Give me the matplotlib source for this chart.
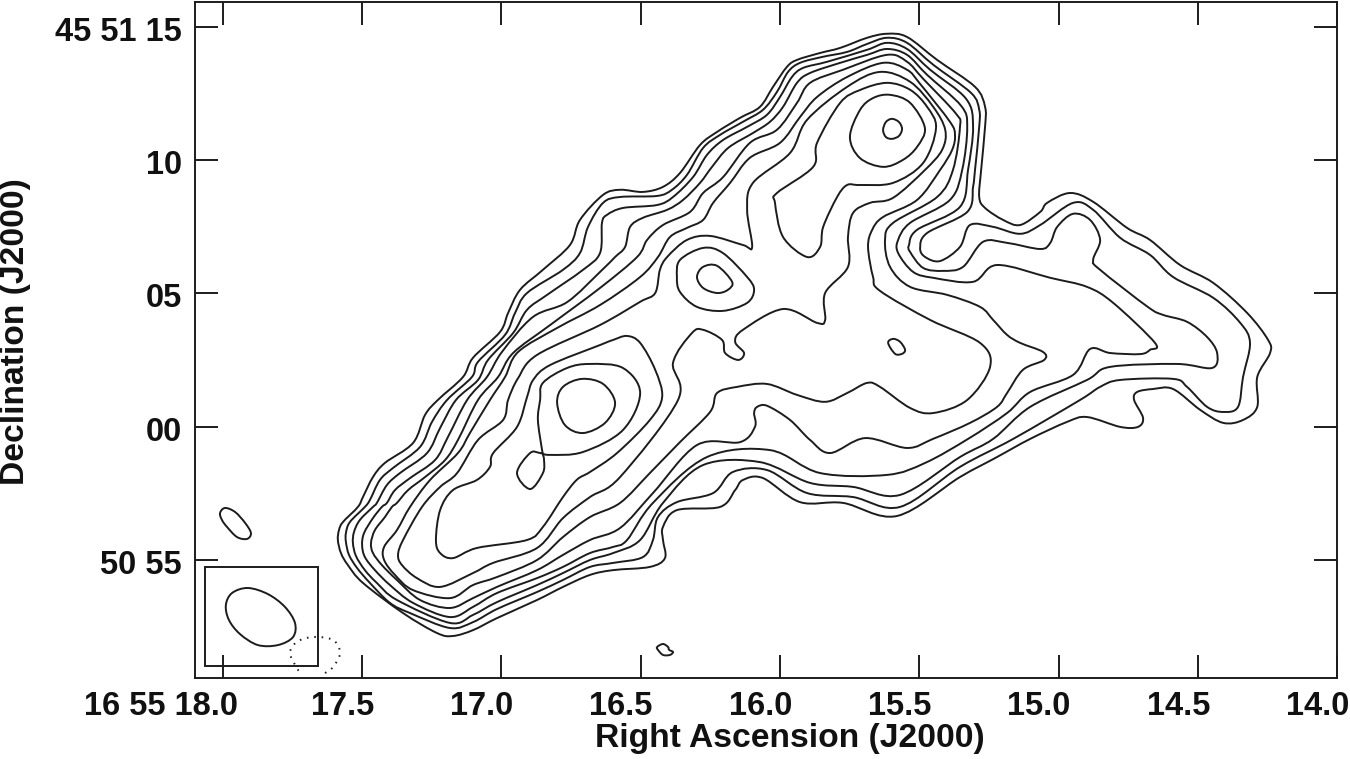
import matplotlib
matplotlib.use('Agg')
import numpy as np
import matplotlib.pyplot as plt
from matplotlib.path import Path
from matplotlib.patches import PathPatch, Rectangle
from matplotlib.transforms import ScaledTranslation

plt.rcParams['font.family'] = ['Liberation Sans', 'DejaVu Sans']
plt.rcParams['font.weight'] = 'bold'

# contours: (RA seconds past 16 55, Dec arcsec from 45 51 00)
lev_1 = [(17.587,-4.25),(17.583,-3.88),(17.569,-3.58),(17.515,-3.01),(17.497,-2.64),(17.461,-1.89),(17.418,-1.36),(17.317,-0.61),(17.274,0.44),(17.228,1.00),(17.138,1.86),(17.102,2.58),(17.005,3.55),(16.976,4.26),(16.933,5.13),(16.851,5.88),(16.754,6.81),(16.718,7.75),(16.635,8.69),(16.574,8.88),(16.492,8.80),(16.420,8.99),(16.359,9.51),(16.287,10.56),(16.226,11.05),(16.143,11.58),(16.072,11.99),(16.025,12.74),(15.975,13.49),(15.939,13.75),(15.856,14.01),(15.784,14.20),(15.687,14.58),(15.616,14.73),(15.544,14.61),(15.436,13.75),(15.300,12.74),(15.264,11.99),(15.264,11.24),(15.278,9.63),(15.285,8.61),(15.264,8.20),(15.199,7.75),(15.138,7.56),(15.066,8.05),(15.041,8.39),(14.959,8.76),(14.876,8.43),(14.754,7.45),(14.672,7.00),(14.564,6.06),(14.445,5.39),(14.323,4.26),(14.248,3.25),(14.241,2.76),(14.287,1.86),(14.287,0.74),(14.338,0.25),(14.409,0.14),(14.492,0.63),(14.589,1.41),(14.661,1.41),(14.718,1.30),(14.729,1.00),(14.697,0.33),(14.715,-0.01),(14.779,-0.01),(14.898,0.36),(14.969,0.18),(15.102,-0.46),(15.228,-1.18),(15.354,-1.89),(15.580,-3.35),(15.774,-2.86),(15.928,-2.83),(16.061,-1.93),(16.133,-2.00),(16.161,-2.38),(16.215,-3.01),(16.370,-3.13),(16.420,-3.76),(16.420,-4.25),(16.413,-4.93),(16.467,-5.26),(16.599,-5.38),(16.682,-5.56),(16.779,-6.01),(16.872,-6.50),(17.016,-7.18),(17.102,-7.63),(17.174,-7.85),(17.231,-7.74),(17.353,-6.99),(17.497,-5.86),(17.551,-5.19),(17.576,-4.74)]
lev_2 = [(17.558,-4.33),(17.558,-3.99),(17.544,-3.58),(17.490,-3.01),(17.472,-2.75),(17.436,-2.00),(17.389,-1.55),(17.292,-0.76),(17.249,0.18),(17.195,1.00),(17.106,1.86),(17.084,2.43),(16.987,3.44),(16.951,4.26),(16.908,5.01),(16.779,5.88),(16.718,6.51),(16.689,7.49),(16.635,8.39),(16.574,8.61),(16.441,8.65),(16.388,8.88),(16.334,9.44),(16.276,10.45),(16.215,10.94),(16.133,11.43),(16.061,11.88),(16.011,12.55),(15.971,13.30),(15.928,13.64),(15.849,13.86),(15.759,14.05),(15.687,14.35),(15.616,14.58),(15.544,14.39),(15.449,13.56),(15.314,12.51),(15.285,11.88),(15.285,11.24),(15.300,9.63),(15.307,8.99),(15.328,8.05),(15.472,7.26),(15.497,6.70),(15.479,6.36),(15.425,6.21),(15.354,6.74),(15.318,7.56),(15.235,7.49),(15.138,7.23),(15.066,7.56),(14.948,8.39),(14.876,8.13),(14.779,7.08),(14.672,6.44),(14.589,5.61),(14.445,4.83),(14.348,3.89),(14.313,3.14),(14.338,1.86),(14.356,0.74),(14.409,0.55),(14.467,0.74),(14.539,1.49),(14.589,1.79),(14.779,1.75),(14.851,1.49),(14.923,1.00),(15.163,-0.46),(15.354,-1.51),(15.569,-3.01),(15.738,-2.64),(15.903,-2.49),(16.046,-1.63),(16.169,-1.70),(16.240,-2.49),(16.370,-2.83),(16.438,-3.39),(16.456,-4.25),(16.492,-4.89),(16.599,-5.11),(16.682,-5.26),(16.779,-5.75),(16.872,-6.20),(17.016,-6.84),(17.102,-7.33),(17.185,-7.55),(17.328,-6.99),(17.400,-6.61),(17.472,-5.86),(17.518,-5.30),(17.547,-4.81)]
lev_3 = [(17.533,-4.36),(17.529,-3.95),(17.508,-3.50),(17.461,-3.01),(17.447,-2.86),(17.411,-2.19),(17.364,-1.74),(17.267,-0.99),(17.220,-0.05),(17.163,1.00),(17.084,1.75),(17.048,2.50),(16.958,3.51),(16.908,4.38),(16.836,4.94),(16.707,5.88),(16.646,6.51),(16.639,7.64),(16.621,7.94),(16.563,8.20),(16.441,8.31),(16.384,8.61),(16.312,9.36),(16.262,10.19),(16.204,10.75),(16.118,11.24),(16.047,11.69),(16.000,12.36),(15.957,13.11),(15.917,13.45),(15.831,13.68),(15.687,14.13),(15.616,14.39),(15.544,14.16),(15.461,13.38),(15.332,12.29),(15.307,11.24),(15.325,9.63),(15.354,8.24),(15.508,7.38),(15.537,6.81),(15.533,6.55),(15.486,5.95),(15.415,5.84),(15.343,5.99),(15.271,6.93),(15.185,6.89),(15.066,6.66),(15.030,6.89),(15.005,7.49),(14.948,7.98),(14.887,7.75),(14.851,7.00),(14.876,6.25),(14.851,5.88),(14.680,4.49),(14.625,4.19),(14.539,3.93),(14.467,3.36),(14.431,2.76),(14.449,2.20),(14.575,2.35),(14.815,2.24),(14.898,1.75),(15.102,0.74),(15.235,-0.46),(15.354,-1.14),(15.569,-2.56),(15.738,-2.26),(15.892,-2.11),(16.072,-1.33),(16.276,-1.44),(16.420,-2.86),(16.502,-4.25),(16.599,-4.74),(16.682,-5.00),(16.779,-5.49),(16.872,-5.94),(17.016,-6.58),(17.102,-7.06),(17.185,-7.36),(17.375,-6.50),(17.447,-5.86),(17.490,-5.38),(17.522,-4.85)]
lev_4 = [(17.500,-4.44),(17.493,-3.99),(17.461,-3.43),(17.429,-3.01),(17.411,-2.86),(17.382,-2.38),(17.328,-1.93),(17.238,-1.25),(17.192,-0.39),(17.123,1.00),(17.052,1.86),(16.998,2.80),(16.887,4.11),(16.764,4.67),(16.646,5.80),(16.592,6.36),(16.556,6.74),(16.538,7.49),(16.492,7.83),(16.405,8.13),(16.348,8.50),(16.287,9.14),(16.244,9.74),(16.186,10.45),(16.097,11.01),(16.036,11.43),(15.989,11.99),(15.939,12.89),(15.892,13.26),(15.784,13.64),(15.687,13.94),(15.616,14.16),(15.544,13.94),(15.472,13.19),(15.350,12.03),(15.328,11.24),(15.346,9.63),(15.390,8.50),(15.533,7.64),(15.576,7.00),(15.576,6.51),(15.522,5.80),(15.450,5.58),(15.307,5.43),(15.221,6.06),(15.030,5.58),(14.898,5.24),(14.804,4.64),(14.654,3.14),(14.672,2.88),(14.707,2.72),(14.815,2.76),(14.887,2.91),(14.948,1.94),(15.102,1.30),(15.185,0.51),(15.325,-0.46),(15.479,-1.36),(15.616,-1.81),(15.856,-1.74),(16.036,-0.88),(16.262,-1.14),(16.456,-2.86),(16.549,-4.25),(16.599,-4.51),(16.682,-4.74),(16.779,-5.26),(16.872,-5.68),(17.016,-6.24),(17.102,-6.76),(17.185,-7.14),(17.317,-6.61),(17.400,-5.94),(17.454,-5.38),(17.490,-4.89)]
lev_5 = [(17.468,-4.36),(17.454,-3.88),(17.418,-3.39),(17.393,-3.01),(17.375,-2.86),(17.335,-2.38),(17.274,-1.89),(17.202,-1.25),(17.156,-0.50),(17.084,1.00),(17.012,1.86),(16.958,2.76),(16.825,3.81),(16.646,5.20),(16.513,6.36),(16.477,7.00),(16.420,7.56),(16.323,8.05),(16.276,8.76),(16.204,9.36),(16.108,10.64),(16.011,11.13),(15.939,12.14),(15.892,12.89),(15.774,13.38),(15.616,13.94),(15.544,13.68),(15.486,13.04),(15.368,11.73),(15.354,11.24),(15.379,9.63),(15.436,8.61),(15.594,7.64),(15.623,7.00),(15.605,5.99),(15.533,5.24),(15.400,4.94),(15.282,4.49),(15.235,4.00),(15.185,3.44),(15.138,3.14),(15.056,2.80),(15.052,2.50),(15.128,2.13),(15.185,1.26),(15.221,0.74),(15.318,0.14),(15.451,-0.46),(15.544,-0.80),(15.695,-0.43),(15.820,-0.99),(15.892,-0.50),(15.964,0.25),(16.046,0.78),(16.082,0.74),(16.093,0.51),(16.090,-0.01),(16.143,-0.58),(16.298,-0.69),(16.456,-2.49),(16.574,-3.80),(16.682,-4.25),(16.779,-4.81),(16.872,-5.38),(17.016,-6.01),(17.102,-6.43),(17.185,-6.80),(17.292,-6.50),(17.375,-5.75),(17.429,-5.19),(17.461,-4.74)]
lev_6 = [(17.421,-4.51),(17.375,-3.88),(17.328,-3.01),(17.256,-2.00),(17.156,-0.99),(17.113,-0.24),(17.041,1.00),(16.987,1.86),(16.940,2.80),(16.800,3.70),(16.646,4.56),(16.502,5.61),(16.438,6.36),(16.395,7.11),(16.334,7.45),(16.276,7.75),(16.240,8.39),(16.179,9.14),(16.108,10.08),(16.000,10.64),(15.928,11.61),(15.867,12.36),(15.759,13.11),(15.630,13.64),(15.544,13.38),(15.497,12.85),(15.390,11.43),(15.372,10.94),(15.382,10.38),(15.425,9.63),(15.508,8.50),(15.630,7.86),(15.669,7.38),(15.684,6.74),(15.666,5.61),(15.641,5.09),(15.461,4.00),(15.282,3.14),(15.246,2.24),(15.328,1.00),(15.450,0.51),(15.533,0.70),(15.641,1.49),(15.687,1.64),(15.759,1.26),(15.838,0.93),(15.939,1.19),(16.047,1.60),(16.154,1.49),(16.226,1.26),(16.251,0.55),(16.359,-0.58),(16.467,-1.74),(16.574,-2.86),(16.682,-3.39),(16.779,-4.14),(16.872,-5.00),(17.016,-5.64),(17.102,-5.94),(17.185,-6.43),(17.317,-6.13),(17.382,-5.56),(17.421,-5.00)]
lev_7 = [(17.353,-4.25),(17.285,-3.01),(17.220,-2.26),(17.159,-1.74),(17.084,-0.50),(16.994,0.25),(16.976,1.00),(16.940,1.82),(16.872,2.69),(16.646,3.81),(16.502,4.68),(16.448,5.01),(16.431,5.88),(16.405,6.36),(16.334,7.00),(16.251,7.15),(16.133,6.81),(16.100,6.74),(16.118,8.13),(16.097,9.14),(15.964,10.26),(15.903,11.50),(15.759,12.74),(15.641,13.30),(15.533,12.93),(15.450,11.99),(15.407,11.13),(15.418,10.38),(15.479,9.63),(15.594,8.58),(15.677,8.39),(15.738,8.01),(15.756,7.11),(15.756,5.99),(15.838,5.01),(15.838,4.00),(15.867,3.89),(15.989,4.41),(16.133,3.63),(16.161,3.18),(16.129,2.76),(16.150,2.50),(16.197,2.76),(16.208,3.25),(16.276,3.63),(16.316,3.51),(16.384,2.39),(16.366,1.00),(16.574,-1.89),(16.682,-2.64),(16.779,-3.43),(16.872,-4.55),(17.030,-5.11),(17.102,-5.49),(17.220,-6.01),(17.303,-5.68),(17.357,-5.19),(17.371,-4.81)]
lev_8 = [(17.235,-4.25),(17.220,-3.13),(17.174,-2.38),(17.088,-2.00),(17.041,-1.51),(17.030,-1.00),(16.944,-0.01),(16.908,1.11),(16.886,1.75),(16.825,2.31),(16.646,3.06),(16.599,3.25),(16.549,3.40),(16.502,3.14),(16.448,2.13),(16.423,1.11),(16.467,0.25),(16.585,-0.99),(16.682,-1.70),(16.729,-1.99),(16.779,-2.64),(16.851,-3.76),(16.908,-4.25),(17.088,-4.55),(17.174,-4.93),(17.220,-4.74)]
lev_9 = [(16.869,0.25),(16.861,1.00),(16.851,1.64),(16.764,2.20),(16.682,2.35),(16.564,2.20),(16.502,1.26),(16.564,-0.13),(16.707,-0.95),(16.825,-1.06),(16.861,-0.99),(16.897,-0.99),(16.944,-1.74),(16.897,-2.34),(16.851,-1.74),(16.847,-1.25),(16.854,-0.88)]
lev_10 = [(16.711,1.79),(16.635,1.60),(16.592,0.89),(16.628,0.14),(16.707,-0.24),(16.772,0.06),(16.800,0.89),(16.779,1.49)]
n_lev_5 = [(16.018,8.39),(16.011,8.76),(15.881,9.74),(15.867,10.64),(15.784,12.14),(15.713,12.62),(15.616,12.89),(15.533,12.63),(15.472,11.99),(15.440,11.20),(15.486,9.89),(15.594,9.14),(15.713,9.06),(15.759,9.06),(15.795,8.61),(15.845,7.49),(15.856,6.74),(15.903,6.36),(15.989,7.11)]
n_lev_6 = [(15.749,10.86),(15.713,11.87),(15.666,12.32),(15.605,12.44),(15.533,12.14),(15.480,11.20),(15.508,10.49),(15.559,10.00),(15.630,9.74),(15.713,10.07)]
n_lev_7 = [(15.630,11.12),(15.620,11.42),(15.598,11.54),(15.573,11.42),(15.562,11.16),(15.573,10.90),(15.598,10.79),(15.620,10.86)]
m_lev_6 = [(16.370,5.61),(16.359,6.25),(16.276,6.70),(16.205,6.51),(16.118,5.61),(16.093,5.13),(16.118,4.64),(16.205,4.34),(16.298,4.49),(16.359,5.05)]
m_lev_7 = [(16.298,5.61),(16.276,5.99),(16.226,6.03),(16.172,5.43),(16.187,5.13),(16.226,5.01),(16.276,5.20)]
blob_mid = [(15.612,3.14),(15.594,3.29),(15.569,3.18),(15.551,2.88),(15.562,2.73),(15.587,2.73)]
blob_sw = [(18.010,-3.24),(17.992,-3.05),(17.956,-3.20),(17.920,-3.61),(17.899,-3.99),(17.913,-4.21),(17.949,-4.14),(17.985,-3.76),(18.003,-3.50)]
blob_s = [(16.441,-8.26),(16.420,-8.15),(16.402,-8.26),(16.398,-8.37),(16.384,-8.45),(16.395,-8.56),(16.420,-8.56),(16.438,-8.37)]
neg_lev = [(17.633,-9.24),(17.604,-9.01),(17.579,-8.49),(17.604,-8.00),(17.676,-7.89),(17.734,-8.07),(17.759,-8.49),(17.734,-9.05),(17.723,-9.20)]
beam = [(17.989,-6.69),(17.967,-6.24),(17.910,-6.05),(17.838,-6.28),(17.777,-6.76),(17.741,-7.36),(17.748,-7.89),(17.802,-8.19),(17.874,-8.19),(17.938,-7.78),(17.978,-7.25)]
beam_box = (17.658, -8.98, 18.064, -5.26)

closed_contours = [lev_1, lev_2, lev_3, lev_4, lev_5, lev_6, lev_7, lev_8, lev_9, lev_10,
                   n_lev_5, n_lev_6, n_lev_7, m_lev_6, m_lev_7, blob_mid, blob_sw, blob_s, beam]

ra_ticks = [18, 17.5, 17, 16.5, 16, 15.5, 15, 14.5, 14]
ra_labels = ['16 55 18.0', '17.5', '17.0', '16.5', '16.0', '15.5', '15.0', '14.5', '14.0']
dec_ticks = [15, 10, 5, 0, -5]
dec_labels = ['45 51 15', '10', '05', '00', '50 55']
ink = '#1c1c1c'


def smooth(points, closed=True):
    # catmull-rom through the read points, as bezier segments
    pts = np.array(points, float)
    n = len(pts)
    verts = [pts[0]]
    codes = [Path.MOVETO]
    for i in range(n if closed else n - 1):
        if closed:
            p0, p1, p2, p3 = pts[(i - 1) % n], pts[i], pts[(i + 1) % n], pts[(i + 2) % n]
        else:
            p0, p1, p2, p3 = pts[max(i - 1, 0)], pts[i], pts[i + 1], pts[min(i + 2, n - 1)]
        verts += [p1 + (p2 - p0) / 6, p2 - (p3 - p1) / 6, p2]
        codes += [Path.CURVE4] * 3
    return Path(verts, codes)


fig = plt.figure(figsize=(13.5, 7.59), dpi=100)
ax = fig.add_axes([194.5 / 1350, 1 - 677.6 / 759, (1337.2 - 194.5) / 1350, (677.6 - 2.3) / 759])
for c in closed_contours:
    ax.add_patch(PathPatch(smooth(c), fc='none', ec=ink, lw=1.4))
ax.add_patch(PathPatch(smooth(neg_lev, closed=False), fc='none', ec=ink, lw=1.4, ls=(0, (0.8, 3))))
ax.add_patch(Rectangle((beam_box[0], beam_box[1]), beam_box[2] - beam_box[0], beam_box[3] - beam_box[1],
                       fc='none', ec=ink, lw=1.4))

ax.set_xlim(18.1016, 14.0)
ax.set_ylim(-9.41, 15.91)
ax.set_xticks(ra_ticks)
ax.set_xticklabels(ra_labels, fontsize=23.5)
ax.set_yticks(dec_ticks)
ax.set_yticklabels(dec_labels, fontsize=23.5)
ax.tick_params(direction='in', length=16.5, width=1.4, top=True, right=True, color=ink, labelcolor='#111111')
ax.tick_params(axis='x', pad=10)
ax.tick_params(axis='y', pad=9)
for s in ax.spines.values():
    s.set_linewidth(1.4)
    s.set_color(ink)

# labels sit left of their ticks in the original
for i, lab in enumerate(ax.get_xticklabels()):
    lab.set_ha('right')
    dx = 0.15 if i == 0 else 0.12
    lab.set_transform(lab.get_transform() + ScaledTranslation(dx, 0, fig.dpi_scale_trans))
for lab in ax.get_yticklabels():
    lab.set_transform(lab.get_transform() + ScaledTranslation(0, -0.02, fig.dpi_scale_trans))

fig.text(790 / 1350, 1 - 739 / 759, 'Right Ascension (J2000)', fontsize=24.2, ha='center', va='center', color='#111111')
fig.text(16 / 1350, 1 - 332 / 759, 'Declination (J2000)', fontsize=24.2, ha='center', va='center', rotation=90, color='#111111')
fig.savefig('out.png', dpi=100)
